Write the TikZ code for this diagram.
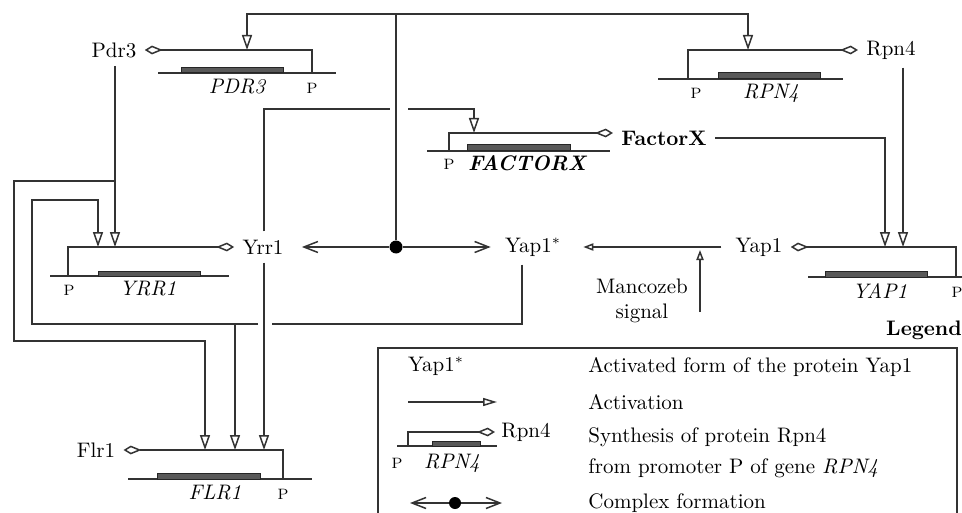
\documentclass[tikz,border=0pt]{standalone}
\usetikzlibrary{arrows.meta}
\begin{document}
\fontsize{10.5}{12.4}\selectfont
\begin{tikzpicture}[x=0.5pt,y=-0.5pt,
  every node/.style={text=black},
  wire/.style={draw=black!80, line width=0.75pt},
  act/.style={wire,-{Triangle[open,length=7.5pt,width=5pt]}},
  acts/.style={wire,-{Triangle[open,length=5pt,width=3.6pt]}},
  syn/.style={wire,-{Kite[open,length=9pt,width=4.4pt,inset=5.4pt]}},
  cplx/.style={wire,-{Straight Barb[length=7pt,width=5.5pt]}},
  genebox/.style={draw=black!85, fill=black!65, line width=0.5pt},
  prot/.style={inner sep=4pt},
  gname/.style={font=\itshape, inner sep=0pt},
  pmark/.style={font=\fontsize{7.5}{9}\selectfont, inner sep=0pt},
  dotn/.style={circle, fill=black, inner sep=0pt, minimum size=6.5pt},
  txt/.style={anchor=west, inner sep=0pt}
]
\useasboundingbox (0,0) rectangle (962,513);

% ---------- protein nodes ----------
\node[prot] (Pdr3) at (114,50) {Pdr3};
\node[prot] (Rpn4) at (891,50) {Rpn4};
\node[prot,font=\bfseries] (FactorX) at (664,138) {FactorX};
\node[prot] (Yrr1) at (263,247) {Yrr1};
\node[prot] (Yap1s) at (533,247) {Yap1$^*$};
\node[prot] (Yap1) at (759,247) {Yap1};
\node[prot] (Flr1) at (96,450) {Flr1};
\node[align=center, inner sep=0pt] (manc) at (642,301) {Mancozeb\\signal};
\node[dotn] (cdot) at (396,247) {};

% ---------- coordinates ----------
\coordinate (top) at (396,14);
\coordinate (pdr3in) at (247,50);
\coordinate (rpn4in) at (748,50);
\coordinate (factin) at (474,133);
\coordinate (yrrinA) at (98,247);
\coordinate (yrrinB) at (115,247);
\coordinate (flrinA) at (205,450);
\coordinate (flrinB) at (235,450);
\coordinate (flrinC) at (264,450);
\coordinate (yapinA) at (885,247);
\coordinate (yapinB) at (903,247);
\coordinate (loopx) at (522,324);
\coordinate (br) at (115,181);
\coordinate (mancin) at (700,312);
\coordinate (mancto) at (700,250);

% ---------- genes ----------
% PDR3
\draw[wire] (158,73) -- (336,73);
\draw[genebox] (181,68) rectangle (283,73);
\draw[syn] (312,73) -- (312,50) -- (Pdr3.east);
\node[gname] (gPDR3) at (237,87) {PDR3};
\node[pmark] (pPDR3) at (312,88) {P};
% RPN4
\draw[wire] (658,79) -- (843,79);
\draw[genebox] (718,73) rectangle (820,79);
\draw[syn] (688,79) -- (688,50) -- (Rpn4.west);
\node[gname] (gRPN4) at (771,93) {RPN4};
\node[pmark] (pRPN4) at (696,93) {P};
% FACTORX
\draw[wire] (427,151) -- (610,151);
\draw[genebox] (467,145) rectangle (570,151);
\draw[syn] (449,151) -- (449,133) -- (FactorX.west |- factin);
\node[gname,font=\bfseries\itshape] (gFACT) at (527,163) {FACTORX};
\node[pmark] (pFACT) at (449,164) {P};
% YRR1
\draw[wire] (50,276) -- (229,276);
\draw[genebox] (98,271) rectangle (200,276);
\draw[syn] (68,276) -- (68,247) -- (Yrr1.west);
\node[gname] (gYRR1) at (148,289) {YRR1};
\node[pmark] (pYRR1) at (69,290) {P};
% YAP1
\draw[wire] (808,277) -- (962,277);
\draw[genebox] (825,271) rectangle (927,277);
\draw[syn] (956,277) -- (956,247) -- (Yap1.east);
\node[gname] (gYAP1) at (880,291) {YAP1};
\node[pmark] (pYAP1) at (957,292) {P};
% FLR1
\draw[wire] (128,479) -- (312,479);
\draw[genebox] (157,473) rectangle (260,479);
\draw[syn] (283,479) -- (283,450) -- (Flr1.east);
\node[gname] (gFLR1) at (215,493) {FLR1};
\node[pmark] (pFLR1) at (283,494) {P};

% ---------- connectors ----------
\draw[wire] (cdot) -- (top);
\draw[act] (top) -| (pdr3in);
\draw[act] (top) -| (rpn4in);
\draw[cplx, shorten >=5pt] (cdot) -- (Yrr1.east);
\draw[cplx, shorten >=3pt] (cdot) -- (Yap1s.west);

\draw[act] (Pdr3.south -| yrrinB) -- (yrrinB);
\draw[act] (br) -- (14,181) -- (14,341) -| (flrinA);

\draw[wire] (Yrr1.north -| flrinC) |- (390,109);
\draw[act] (408,109) -| (factin);
\draw[act] (Yrr1.south -| flrinC) -- (flrinC);

\draw[wire] (Yap1s.south -| loopx) -- (loopx) -- (272,324);
\draw[act] (258,324) -- (32,324) -- (32,200) -| (yrrinA);
\draw[act] (235,324) -- (flrinB);

\draw[act] (FactorX.east) -| (yapinA);
\draw[act] (Rpn4.south -| yapinB) -- (yapinB);

\draw[acts, shorten <=3pt, shorten >=7pt] (Yap1.west) -- (Yap1s.east);
\draw[acts] (mancin) -- (mancto);

% ---------- legend ----------
\node[font=\bfseries, inner sep=0pt] (leg) at (924,330) {Legend};
\draw[wire] (378,513) |- (957,348) -- (957,513);

\node[inner sep=0pt] (lY) at (436,366) {Yap1$^*$};
\node[txt] (l1) at (588,367) {Activated form of the protein Yap1};

\coordinate (la0) at (408,402);
\coordinate (la1) at (497,402);
\draw[act, -{Triangle[open,length=7pt,width=4pt]}] (la0) -- (la1);
\node[txt] (l2) at (588,402) {Activation};

\draw[wire] (397,446) -- (497,446);
\draw[genebox] (432,441) rectangle (480,446);
\node[inner sep=0pt] (lR) at (526,432) {Rpn4};
\draw[syn, shorten >=3pt] (408,446) -- (408,432) -- (lR.west);
\node[pmark] (lP) at (397,463) {P};
\node[gname] (lG) at (452,463) {RPN4};
\node[txt] (l3) at (588,437) {Synthesis of protein Rpn4};
\node[txt] (l4) at (588,468) {from promoter P of gene \textit{RPN4}};

\node[dotn, minimum size=6pt] (ldot) at (455,503) {};
\coordinate (lc0) at (410,503);
\coordinate (lc1) at (502,503);
\draw[cplx] (ldot) -- (lc0);
\draw[cplx] (ldot) -- (lc1);
\node[txt] (l5) at (588,503) {Complex formation};
\end{tikzpicture}
\end{document}
